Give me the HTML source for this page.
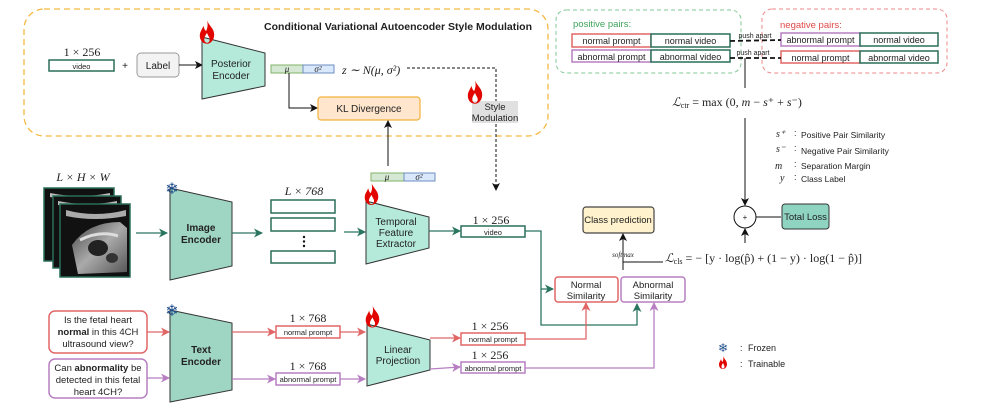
<!DOCTYPE html>
<html><head><meta charset="utf-8"><style>
body{margin:0;background:#fff}
svg{display:block}
text{font-family:"Liberation Sans",sans-serif;fill:#222}
.m{font-family:"Liberation Serif",serif;font-style:italic}
.r{font-family:"Liberation Serif",serif}
</style></head><body>
<svg width="997" height="413" viewBox="0 0 997 413" xmlns="http://www.w3.org/2000/svg">
<defs>
<marker id="ak" markerWidth="8" markerHeight="8" refX="7" refY="4" orient="auto" markerUnits="userSpaceOnUse"><path d="M0,0 L8,4 L0,8 L2,4z" fill="#111"/></marker>
<marker id="ag" markerWidth="9" markerHeight="9" refX="8" refY="4.5" orient="auto" markerUnits="userSpaceOnUse"><path d="M0,0 L9,4.5 L0,9 L2.5,4.5z" fill="#2a7560"/></marker>
<marker id="ar" markerWidth="9" markerHeight="9" refX="8" refY="4.5" orient="auto" markerUnits="userSpaceOnUse"><path d="M0,0 L9,4.5 L0,9 L2.5,4.5z" fill="#e06666"/></marker>
<marker id="ap" markerWidth="9" markerHeight="9" refX="8" refY="4.5" orient="auto" markerUnits="userSpaceOnUse"><path d="M0,0 L9,4.5 L0,9 L2.5,4.5z" fill="#b77fc2"/></marker>
<symbol id="flame" viewBox="0 0 20 26"><path d="M10,0 C12,6 18,9 18,16 C18,22 14,26 10,26 C5,26 2,22 2,17 C2,12 5,10 6,6 C7,10 8,11 9,12 C11,8 11,4 10,0z M10,14 C8,17 7,19 7,21 C7,24 9,25 10,25 C12,25 13,23 13,21 C13,19 11,17 10,14z" fill="#e10600" fill-rule="evenodd"/></symbol>
<linearGradient id="us" x1="0" y1="0" x2="1" y2="1"><stop offset="0" stop-color="#444"/><stop offset="0.5" stop-color="#aaa"/><stop offset="1" stop-color="#555"/></linearGradient>
</defs>

<rect x="24" y="9" width="524" height="127" rx="20" fill="none" stroke="#f5b942" stroke-width="1.3" stroke-dasharray="6,4"/>
<text x="532" y="30" font-size="10.5" font-weight="bold" text-anchor="end">Conditional Variational Autoencoder Style Modulation</text>
<text x="82" y="56" font-size="12" class="r" text-anchor="middle">1 × 256</text>
<rect x="49" y="60" width="65" height="11" fill="#fff" stroke="#2a6e5a" stroke-width="1.5"/>
<text x="81.5" y="69" font-size="7.5" text-anchor="middle">video</text>
<text x="125" y="69" font-size="10" text-anchor="middle">+</text>
<rect x="137" y="53" width="42" height="24" rx="4" fill="#f3f3f3" stroke="#999"/>
<text x="158" y="69" font-size="10" text-anchor="middle">Label</text>
<line x1="179" y1="65" x2="202" y2="65" stroke="#111" marker-end="url(#ak)"/>
<polygon points="202,37 265,53 265,86 202,99" fill="#b5eadb" stroke="#333"/>
<text x="231" y="67" font-size="10" text-anchor="middle">Posterior</text>
<text x="231" y="79" font-size="10" text-anchor="middle">Encoder</text>
<use href="#flame" x="198" y="20" width="18" height="24"/>
<rect x="271" y="65" width="32" height="8" fill="#d5e8d4" stroke="#82b366"/>
<rect x="303" y="65" width="31" height="8" fill="#dae8fc" stroke="#6c8ebf"/>
<text x="287" y="72" font-size="9" class="m" text-anchor="middle">μ</text>
<text x="318" y="72" font-size="9" class="m" text-anchor="middle">σ²</text>
<text x="342" y="74" font-size="12" class="m">z ∼ N(μ, σ²)</text>
<path d="M407,68 L496,68 L496,190" fill="none" stroke="#111" stroke-dasharray="3,2" marker-end="url(#ak)"/>
<path d="M289,73 L289,108 L317,108" fill="none" stroke="#111" marker-end="url(#ak)"/>
<rect x="318" y="97" width="102" height="23" rx="3" fill="#ffe6cc" stroke="#f2b13a" stroke-width="1.2"/>
<text x="369" y="112" font-size="10" text-anchor="middle">KL Divergence</text>
<rect x="472" y="101" width="46" height="22" fill="#e0e0e0"/>
<text x="495" y="110" font-size="9.5" text-anchor="middle">Style</text>
<text x="495" y="121" font-size="9.5" text-anchor="middle">Modulation</text>
<use href="#flame" x="466" y="80" width="18" height="24"/>
<line x1="388" y1="166" x2="388" y2="121" stroke="#111" marker-end="url(#ak)"/>
<rect x="371" y="173" width="33" height="8" fill="#d5e8d4" stroke="#82b366"/>
<rect x="404" y="173" width="31" height="8" fill="#dae8fc" stroke="#6c8ebf"/>
<text x="387" y="180" font-size="9" class="m" text-anchor="middle">μ</text>
<text x="419" y="180" font-size="9" class="m" text-anchor="middle">σ²</text>

<text x="83" y="181" font-size="12" class="m" text-anchor="middle">L × H × W</text>
<rect x="44" y="188" width="70" height="73" fill="#111" stroke="#2a6e5a" stroke-width="1.5"/>
<path d="M50,193 Q80,199 110,193 L110,197 Q80,203 50,197z" fill="#bbb"/>
<rect x="53" y="196" width="68" height="72" fill="#111" stroke="#2a6e5a" stroke-width="1.5"/>
<path d="M58,201 Q88,207 117,201 L117,205 Q88,211 58,205z" fill="#bbb"/>
<rect x="60" y="204" width="70" height="73" fill="#111" stroke="#2a6e5a" stroke-width="1.5"/>
<path d="M66,210 Q95,218 126,210 L126,216 Q95,222 66,216z" fill="#aaa"/>
<path d="M72,245 Q88,222 120,222 L127,228 L127,272 L78,274z" fill="url(#us)"/>
<path d="M80,240 Q100,230 118,236" stroke="#ddd" stroke-width="3" fill="none"/>
<ellipse cx="98" cy="248" rx="10" ry="8" fill="#222"/>
<ellipse cx="112" cy="258" rx="6" ry="5" fill="#333"/>
<line x1="136" y1="233" x2="167" y2="233" stroke="#2a7560" stroke-width="1.3" marker-end="url(#ag)"/>
<polygon points="170,188 232,202 232,266 170,280" fill="#9fd5c3" stroke="#333"/>
<text x="201" y="231" font-size="10" font-weight="bold" text-anchor="middle">Image</text>
<text x="201" y="243" font-size="10" font-weight="bold" text-anchor="middle">Encoder</text>
<text x="172" y="194" font-size="16" style="fill:#1f4e8c" text-anchor="middle">❄</text>
<line x1="232" y1="233" x2="262" y2="233" stroke="#2a7560" stroke-width="1.3" marker-end="url(#ag)"/>
<text x="304" y="195" font-size="12" class="m" text-anchor="middle">L × 768</text>
<rect x="271" y="200" width="64" height="13" fill="#fff" stroke="#2a6e5a" stroke-width="1.5"/>
<rect x="271" y="218" width="64" height="13" fill="#fff" stroke="#2a6e5a" stroke-width="1.5"/>
<rect x="271" y="251" width="64" height="12" fill="#fff" stroke="#2a6e5a" stroke-width="1.5"/>
<circle cx="304" cy="237" r="1.2" fill="#111"/><circle cx="304" cy="241.5" r="1.2" fill="#111"/><circle cx="304" cy="246" r="1.2" fill="#111"/>
<line x1="344" y1="232" x2="365" y2="232" stroke="#2a7560" stroke-width="1.3" marker-end="url(#ag)"/>
<polygon points="366,201 429,217 429,248 366,264" fill="#b5eadb" stroke="#333"/>
<text x="396" y="225" font-size="10" text-anchor="middle">Temporal</text>
<text x="396" y="236" font-size="10" text-anchor="middle">Feature</text>
<text x="396" y="247" font-size="10" text-anchor="middle">Extractor</text>
<use href="#flame" x="363" y="183" width="17" height="22"/>
<line x1="429" y1="231" x2="460" y2="231" stroke="#2a7560" stroke-width="1.3" marker-end="url(#ag)"/>
<text x="491" y="224" font-size="12" class="r" text-anchor="middle">1 × 256</text>
<rect x="461" y="226" width="64" height="11" fill="#fff" stroke="#2a6e5a" stroke-width="1.5"/>
<text x="493" y="235" font-size="7.5" text-anchor="middle">video</text>
<path d="M525,231 L541,231 L541,289 L553,289" fill="none" stroke="#2a7560" stroke-width="1.3" marker-end="url(#ag)"/>
<path d="M541,289 L541,325 L637,325 L637,304" fill="none" stroke="#2a7560" stroke-width="1.3" marker-end="url(#ag)"/>

<rect x="555" y="277" width="63" height="25" rx="3" fill="#fff" stroke="#e06666" stroke-width="1.5"/>
<text x="586" y="288" font-size="9.5" text-anchor="middle">Normal</text>
<text x="586" y="299" font-size="9.5" text-anchor="middle">Similarity</text>
<rect x="621" y="277" width="64" height="25" rx="3" fill="#fff" stroke="#b77fc2" stroke-width="1.5"/>
<text x="653" y="288" font-size="9.5" text-anchor="middle">Abnormal</text>
<text x="653" y="299" font-size="9.5" text-anchor="middle">Similarity</text>
<rect x="583" y="207" width="71" height="26" rx="3" fill="#fff2cc" stroke="#444" stroke-width="1.2"/>
<text x="618" y="223" font-size="9.5" text-anchor="middle">Class prediction</text>
<line x1="623" y1="270" x2="623" y2="234" stroke="#111" marker-end="url(#ak)"/>
<line x1="623" y1="262" x2="663" y2="262" stroke="#111"/>
<text x="623" y="257" font-size="7" class="m" text-anchor="middle">softmax</text>
<text x="665" y="262" font-size="12" class="m">ℒ<tspan font-size="8" font-style="normal" dy="2">cls</tspan><tspan dy="-2" font-style="normal"> = − [y · log(p̂) + (1 − y) · log(1 − p̂)]</tspan></text>

<rect x="49" y="311" width="98" height="42" rx="6" fill="#fff" stroke="#e06666" stroke-width="1.5"/>
<text x="98" y="323" font-size="9.5" text-anchor="middle">Is the fetal heart</text>
<text x="98" y="335" font-size="9.5" text-anchor="middle"><tspan font-weight="bold">normal</tspan> in this 4CH</text>
<text x="98" y="347" font-size="9.5" text-anchor="middle">ultrasound view?</text>
<rect x="49" y="359" width="98" height="39" rx="6" fill="#fff" stroke="#b77fc2" stroke-width="1.5"/>
<text x="98" y="371" font-size="9.5" text-anchor="middle">Can <tspan font-weight="bold">abnormality</tspan> be</text>
<text x="98" y="383" font-size="9.5" text-anchor="middle">detected in this fetal</text>
<text x="98" y="395" font-size="9.5" text-anchor="middle">heart 4CH?</text>
<line x1="147" y1="332" x2="169" y2="332" stroke="#e06666" stroke-width="1.3" marker-end="url(#ar)"/>
<line x1="147" y1="378" x2="169" y2="378" stroke="#b77fc2" stroke-width="1.3" marker-end="url(#ap)"/>
<polygon points="170,310 232,323 232,390 170,402" fill="#9fd5c3" stroke="#333"/>
<text x="201" y="353" font-size="10" font-weight="bold" text-anchor="middle">Text</text>
<text x="201" y="365" font-size="10" font-weight="bold" text-anchor="middle">Encoder</text>
<text x="172" y="316" font-size="16" style="fill:#1f4e8c" text-anchor="middle">❄</text>
<line x1="232" y1="332" x2="275" y2="332" stroke="#e06666" stroke-width="1.3" marker-end="url(#ar)"/>
<line x1="232" y1="379" x2="275" y2="379" stroke="#b77fc2" stroke-width="1.3" marker-end="url(#ap)"/>
<text x="308" y="322" font-size="12" class="r" text-anchor="middle">1 × 768</text>
<rect x="276" y="326" width="64" height="12" fill="#fff" stroke="#e06666" stroke-width="1.5"/>
<text x="308" y="335" font-size="7.5" text-anchor="middle">normal prompt</text>
<text x="308" y="370" font-size="12" class="r" text-anchor="middle">1 × 768</text>
<rect x="276" y="373" width="64" height="12" fill="#fff" stroke="#b77fc2" stroke-width="1.5"/>
<text x="308" y="382" font-size="7.5" text-anchor="middle">abnormal prompt</text>
<line x1="340" y1="332" x2="365" y2="332" stroke="#e06666" stroke-width="1.3" marker-end="url(#ar)"/>
<line x1="340" y1="379" x2="365" y2="379" stroke="#b77fc2" stroke-width="1.3" marker-end="url(#ap)"/>
<polygon points="367,324 430,340 430,370 367,386" fill="#b5eadb" stroke="#333"/>
<text x="398" y="353" font-size="10" text-anchor="middle">Linear</text>
<text x="398" y="364" font-size="10" text-anchor="middle">Projection</text>
<use href="#flame" x="364" y="305" width="17" height="23"/>
<line x1="430" y1="338" x2="460" y2="338" stroke="#e06666" stroke-width="1.3" marker-end="url(#ar)"/>
<line x1="430" y1="369" x2="460" y2="367" stroke="#b77fc2" stroke-width="1.3" marker-end="url(#ap)"/>
<text x="490" y="330" font-size="12" class="r" text-anchor="middle">1 × 256</text>
<rect x="461" y="333" width="64" height="12" fill="#fff" stroke="#e06666" stroke-width="1.5"/>
<text x="493" y="342" font-size="7.5" text-anchor="middle">normal prompt</text>
<text x="490" y="359" font-size="12" class="r" text-anchor="middle">1 × 256</text>
<rect x="461" y="362" width="64" height="11" fill="#fff" stroke="#b77fc2" stroke-width="1.5"/>
<text x="493" y="371" font-size="7.5" text-anchor="middle">abnormal prompt</text>
<path d="M525,339 L586,339 L586,303" fill="none" stroke="#e06666" stroke-width="1.3" marker-end="url(#ar)"/>
<path d="M525,368 L654,368 L654,303" fill="none" stroke="#b77fc2" stroke-width="1.3" marker-end="url(#ap)"/>

<rect x="556" y="10" width="185" height="63" rx="10" fill="none" stroke="#82c896" stroke-dasharray="4,3"/>
<text x="573" y="27" font-size="9.5" style="fill:#3fa35a">positive pairs:</text>
<rect x="572" y="34" width="79" height="13" fill="#fff" stroke="#e06666" stroke-width="1.5"/>
<rect x="651" y="34" width="79" height="13" fill="#fff" stroke="#2a6e5a" stroke-width="1.5"/>
<text x="611.5" y="44" font-size="9" text-anchor="middle">normal prompt</text>
<text x="690.5" y="44" font-size="9" text-anchor="middle">normal video</text>
<rect x="572" y="50" width="79" height="12" fill="#fff" stroke="#b77fc2" stroke-width="1.5"/>
<rect x="651" y="50" width="79" height="12" fill="#fff" stroke="#2a6e5a" stroke-width="1.5"/>
<text x="611.5" y="60" font-size="9" text-anchor="middle">abnormal prompt</text>
<text x="690.5" y="60" font-size="9" text-anchor="middle">abnormal video</text>
<rect x="762" y="9" width="185" height="64" rx="10" fill="none" stroke="#ee8888" stroke-dasharray="4,3"/>
<text x="780" y="28" font-size="9.5" style="fill:#e04848">negative pairs:</text>
<rect x="781" y="33" width="79" height="13" fill="#fff" stroke="#b77fc2" stroke-width="1.5"/>
<rect x="860" y="33" width="78" height="13" fill="#fff" stroke="#2a6e5a" stroke-width="1.5"/>
<text x="820.5" y="43" font-size="9" text-anchor="middle">abnormal prompt</text>
<text x="899" y="43" font-size="9" text-anchor="middle">normal video</text>
<rect x="781" y="51" width="79" height="12" fill="#fff" stroke="#e06666" stroke-width="1.5"/>
<rect x="860" y="51" width="78" height="12" fill="#fff" stroke="#2a6e5a" stroke-width="1.5"/>
<text x="820.5" y="61" font-size="9" text-anchor="middle">normal prompt</text>
<text x="899" y="61" font-size="9" text-anchor="middle">abnormal video</text>
<line x1="730" y1="41" x2="781" y2="40" stroke="#111" stroke-width="1.8" stroke-dasharray="5,3"/>
<line x1="730" y1="58" x2="781" y2="58" stroke="#111" stroke-width="1.8" stroke-dasharray="5,3"/>
<text x="755" y="38" font-size="7" text-anchor="middle">push apart</text>
<text x="753" y="55" font-size="7" text-anchor="middle">push apart</text>
<line x1="745" y1="58" x2="745" y2="88" stroke="#111"/>
<text x="737" y="106" font-size="12" class="m" text-anchor="middle">ℒ<tspan font-size="8" font-style="normal" dy="2">ctr</tspan><tspan dy="-2" font-style="normal"> = max (0, <tspan font-style="italic">m</tspan> − <tspan font-style="italic">s</tspan>⁺ + <tspan font-style="italic">s</tspan>⁻)</tspan></text>
<line x1="745" y1="118" x2="745" y2="205" stroke="#111" marker-end="url(#ak)"/>
<circle cx="745" cy="217" r="11" fill="#fff" stroke="#111"/>
<text x="745" y="220" font-size="8" text-anchor="middle">+</text>
<line x1="756" y1="217" x2="781" y2="217" stroke="#111"/>
<rect x="782" y="204" width="47" height="25" rx="3" fill="#8fd3c1" stroke="#333"/>
<text x="805.5" y="220" font-size="9.5" text-anchor="middle">Total Loss</text>
<line x1="745" y1="243" x2="745" y2="229" stroke="#111" marker-end="url(#ak)"/>

<text x="776" y="137" font-size="10" class="m">s⁺</text><text x="794" y="136" font-size="9">:</text><text x="801" y="138" font-size="8.5">Positive Pair Similarity</text>
<text x="776" y="152" font-size="10" class="m">s⁻</text><text x="794" y="151" font-size="9">:</text><text x="801" y="154" font-size="8.5">Negative Pair Similarity</text>
<text x="775" y="169" font-size="10" class="m">m</text><text x="794" y="167" font-size="9">:</text><text x="801" y="169" font-size="8.5">Separation Margin</text>
<text x="780" y="181" font-size="10" class="m">y</text><text x="794" y="180" font-size="9">:</text><text x="801" y="182" font-size="8.5">Class Label</text>

<text x="723" y="352" font-size="12" style="fill:#1f4e8c" text-anchor="middle">❄</text>
<text x="740" y="351" font-size="9">:</text><text x="748" y="351" font-size="9">Frozen</text>
<use href="#flame" x="718" y="356" width="10" height="13"/>
<text x="740" y="367" font-size="9">:</text><text x="748" y="367" font-size="9">Trainable</text>
</svg>
</body></html>
